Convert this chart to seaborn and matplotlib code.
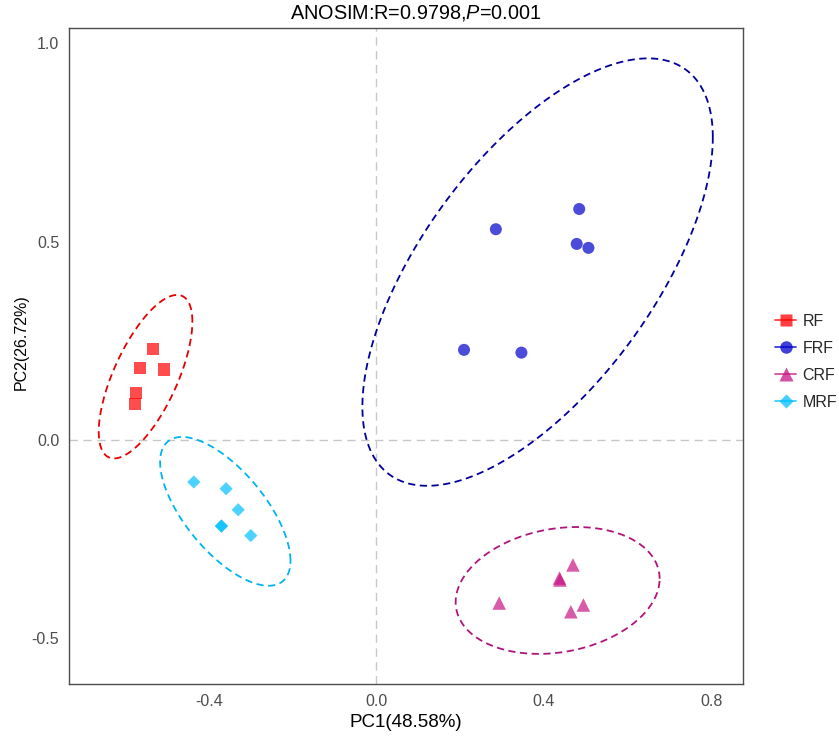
import numpy as np
import pandas as pd
import matplotlib
matplotlib.use("Agg")
import matplotlib.pyplot as plt
from matplotlib.lines import Line2D
import seaborn as sns

# ---- data ----
groups = ["RF", "FRF", "CRF", "MRF"]
rf_x = [-0.534, -0.564, -0.507, -0.574, -0.577]
rf_y = [0.229, 0.182, 0.178, 0.118, 0.090]
frf_x = [0.285, 0.484, 0.478, 0.506, 0.209, 0.346]
frf_y = [0.531, 0.582, 0.494, 0.484, 0.227, 0.220]
crf_x = [0.469, 0.437, 0.438, 0.293, 0.494, 0.464]
crf_y = [-0.315, -0.348, -0.353, -0.411, -0.416, -0.433]
mrf_x = [-0.436, -0.359, -0.330, -0.370, -0.370, -0.300]
mrf_y = [-0.106, -0.123, -0.176, -0.217, -0.217, -0.241]
title_text = r"ANOSIM:R=0.9798,$\mathit{P}$=0.001"
xlabel_text = "PC1(48.58%)"
ylabel_text = "PC2(26.72%)"
x_ticks = [-0.4, 0.0, 0.4, 0.8]
y_ticks = [-0.5, 0.0, 0.5, 1.0]

sns.set_style("white")
plt.rcParams["font.family"] = ["Liberation Sans", "DejaVu Sans"]
plt.rcParams["mathtext.fontset"] = "custom"
plt.rcParams["mathtext.rm"] = "Liberation Sans"
plt.rcParams["mathtext.it"] = "Liberation Sans:italic"

xs = {"RF": rf_x, "FRF": frf_x, "CRF": crf_x, "MRF": mrf_x}
ys = {"RF": rf_y, "FRF": frf_y, "CRF": crf_y, "MRF": mrf_y}
df = pd.concat([pd.DataFrame({"PC1": xs[g], "PC2": ys[g], "group": g}) for g in groups],
               ignore_index=True)

palette = {"RF": "#FF0000", "FRF": "#0000CD", "CRF": "#C71585", "MRF": "#00BFFF"}
ellipse_colors = {"RF": "#E60000", "FRF": "#00009C", "CRF": "#B0147A", "MRF": "#00B4F0"}
markers = {"RF": "s", "FRF": "o", "CRF": "^", "MRF": "D"}
sizes = {"RF": 80, "FRF": 75, "CRF": 95, "MRF": 45}

fig = plt.figure(figsize=(8.39, 7.38), dpi=100)
ax = fig.add_axes([0.0822, 0.0732, 0.8034, 0.8888])

# zero reference lines
ax.axvline(0, color="#C8C8C8", lw=1.0, ls=(0, (6, 4)), zorder=0)
ax.axhline(0, color="#C8C8C8", lw=1.0, ls=(0, (6, 4)), zorder=0)

for g in groups:
    sub = df[df.group == g]
    sns.scatterplot(data=sub, x="PC1", y="PC2", color=palette[g], marker=markers[g],
                    s=sizes[g], alpha=0.7, edgecolor="none", linewidth=0, ax=ax,
                    legend=False, zorder=3)

# 95% t-based confidence ellipses computed from the data
t = np.linspace(0, 2 * np.pi, 200)
circle = np.column_stack([np.cos(t), np.sin(t)])
for g in groups:
    pts = df[df.group == g][["PC1", "PC2"]].to_numpy()
    n = len(pts)
    d = n - 1
    center = pts.mean(axis=0)
    cov = np.cov(pts.T)
    radius = np.sqrt(d * (0.05 ** (-2.0 / d) - 1.0))
    chol = np.linalg.cholesky(cov).T
    ell = center + radius * circle @ chol
    ax.plot(ell[:, 0], ell[:, 1], color=ellipse_colors[g], lw=1.3, ls=(0, (4, 2.5)), zorder=2)

ax.set_xlim(-0.734, 0.875)
ax.set_ylim(-0.615, 1.038)
ax.set_xticks(x_ticks)
ax.set_yticks(y_ticks)
ax.set_xticklabels([f"{v:.1f}" for v in x_ticks])
ax.set_yticklabels([f"{v:.1f}" for v in y_ticks])
ax.tick_params(axis="both", direction="out", length=4, width=1, color="#333333",
               labelsize=11.5, labelcolor="#4D4D4D", pad=3)
for sp in ax.spines.values():
    sp.set_color("#4D4D4D")
    sp.set_linewidth(1.0)
ax.set_xlabel(xlabel_text, fontsize=13.5, color="#000000", labelpad=4)
ax.set_ylabel(ylabel_text, fontsize=11.5, color="#000000")
ax.yaxis.set_label_coords(-0.060, 0.521)
ax.set_title(title_text, fontsize=14.3, color="#000000", pad=7, x=0.514)

handles = [Line2D([0], [0], color=palette[g], marker=markers[g], lw=1.3,
                  markersize={"RF": 9, "FRF": 9, "CRF": 10, "MRF": 7}[g],
                  markerfacecolor=palette[g], markeredgecolor="none", alpha=0.75)
           for g in groups]
leg = fig.legend(handles, groups, loc="center left", bbox_to_anchor=(0.907, 0.51),
                 frameon=False, fontsize=11.5, handlelength=1.3, handletextpad=0.4,
                 labelspacing=0.75)

fig.savefig("out.png", dpi=100)
